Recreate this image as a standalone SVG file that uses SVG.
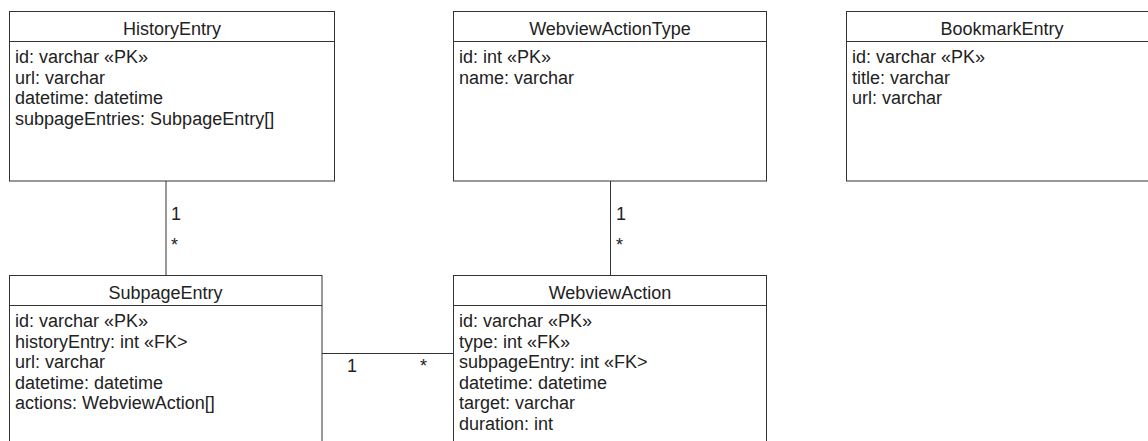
<svg xmlns="http://www.w3.org/2000/svg" width="1148" height="441" viewBox="0 0 1148 441">
<style>
  .box{fill:#fff;stroke:#333;stroke-width:1}
  .sep{stroke:#333;stroke-width:1}
  .conn{stroke:#333;stroke-width:1;fill:none}
  text{font-family:"Liberation Sans",Arial,sans-serif;font-size:18px;fill:#222}
  .title{text-anchor:middle}
</style>
<rect width="1148" height="441" fill="#fff"/>
<g id="connectors">
  <line class="conn" x1="166" y1="181" x2="166" y2="275"/>
  <text x="171" y="220">1</text>
  <text x="171" y="251">*</text>
  <line class="conn" x1="610.5" y1="181" x2="610.5" y2="275"/>
  <text x="616" y="220">1</text>
  <text x="616" y="251">*</text>
  <line class="conn" x1="322" y1="353.5" x2="453.5" y2="353.5"/>
  <text x="347" y="372">1</text>
  <text x="420" y="372">*</text>
</g>
<g id="HistoryEntry">
  <rect class="box" x="9.5" y="11.5" width="325" height="169.5"/>
  <line class="sep" x1="9.5" y1="41.5" x2="334.5" y2="41.5"/>
  <text class="title" x="172" y="35">HistoryEntry</text>
  <text x="15" y="63">id: varchar «PK»</text>
  <text x="15" y="83.5">url: varchar</text>
  <text x="15" y="104">datetime: datetime</text>
  <text x="15" y="124.5">subpageEntries: SubpageEntry[]</text>
</g>
<g id="WebviewActionType">
  <rect class="box" x="453.5" y="11.5" width="313" height="169.5"/>
  <line class="sep" x1="453.5" y1="41.5" x2="766.5" y2="41.5"/>
  <text class="title" x="610" y="35">WebviewActionType</text>
  <text x="459" y="63">id: int «PK»</text>
  <text x="459" y="83.5">name: varchar</text>
</g>
<g id="BookmarkEntry">
  <rect class="box" x="846.5" y="11.5" width="312" height="169.5"/>
  <line class="sep" x1="846.5" y1="41.5" x2="1158.5" y2="41.5"/>
  <text class="title" x="1002" y="35">BookmarkEntry</text>
  <text x="852" y="63">id: varchar «PK»</text>
  <text x="852" y="83.5">title: varchar</text>
  <text x="852" y="104">url: varchar</text>
</g>
<g id="SubpageEntry">
  <rect class="box" x="9.5" y="275.5" width="312.5" height="200"/>
  <line class="sep" x1="9.5" y1="305.5" x2="322" y2="305.5"/>
  <text class="title" x="165.5" y="299">SubpageEntry</text>
  <text x="15" y="327">id: varchar «PK»</text>
  <text x="15" y="347.5">historyEntry: int «FK&gt;</text>
  <text x="15" y="368">url: varchar</text>
  <text x="15" y="388.5">datetime: datetime</text>
  <text x="15" y="409">actions: WebviewAction[]</text>
</g>
<g id="WebviewAction">
  <rect class="box" x="453.5" y="275.5" width="313" height="200"/>
  <line class="sep" x1="453.5" y1="305.5" x2="766.5" y2="305.5"/>
  <text class="title" x="610" y="299">WebviewAction</text>
  <text x="459" y="327">id: varchar «PK»</text>
  <text x="459" y="347.5">type: int «FK»</text>
  <text x="459" y="368">subpageEntry: int «FK&gt;</text>
  <text x="459" y="388.5">datetime: datetime</text>
  <text x="459" y="409">target: varchar</text>
  <text x="459" y="429.5">duration: int</text>
</g>
</svg>
